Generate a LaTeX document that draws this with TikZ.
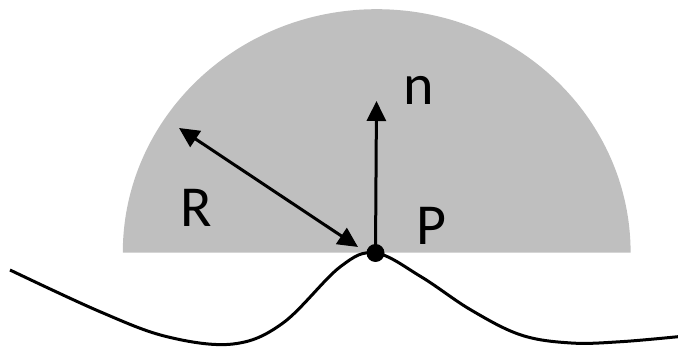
\documentclass[tikz,border=0pt]{standalone}
\usepackage{fontspec}
\setmainfont{Carlito}
\usetikzlibrary{arrows.meta}
\definecolor{capgray}{RGB}{191,191,191}
\begin{document}
\begin{tikzpicture}[x=1pt,y=1pt,
  lbl/.style={font=\fontsize{58}{60}\selectfont,inner sep=0pt},
  vec/.style={line width=3pt,-{Triangle[length=20pt,width=19pt]}},
  dvec/.style={line width=3pt,{Triangle[length=20pt,width=19pt]}-{Triangle[length=20pt,width=19pt]}},
  surf/.style={line width=3pt}]
\useasboundingbox (0,0) rectangle (678,347);
\fill[capgray] (122.8,94.3) arc[start angle=180,end angle=0,x radius=253.9,y radius=243.5] -- cycle;
\coordinate (P) at (375.5,94);
\coordinate (ntip) at (376.5,246);
\coordinate (rtip) at (179,219);
\coordinate (rfoot) at (358,100);
\draw[surf] plot[smooth,tension=0.6] coordinates {(10,77) (100,35.3) (167,10.3) (233,3) (283,24) (340,80) (375.5,94) (421,70.3) (471,37) (521,12) (571,4) (621,5.3) (678,10.3)};
\draw[vec] (P) -- (ntip);
\draw[dvec] (rfoot) -- (rtip);
\fill (P) circle[radius=9];
\node[lbl] (nlbl) at (419,257) {n};
\node[lbl] (rlbl) at (196,139) {R};
\node[lbl] (plbl) at (431,121) {P};
\end{tikzpicture}
\end{document}
